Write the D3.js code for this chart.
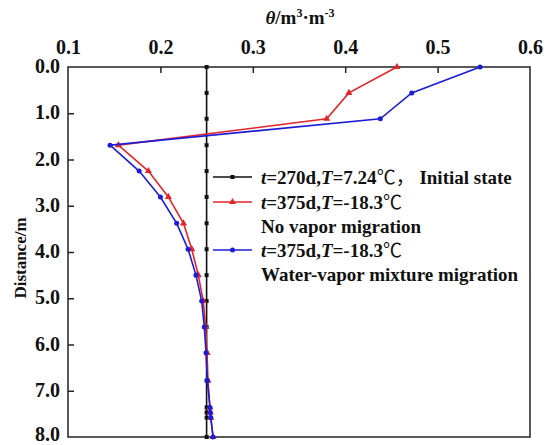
<!DOCTYPE html>
<html>
<head>
<meta charset="utf-8">
<script src="https://cdn.jsdelivr.net/npm/d3@7"></script>
<style>
  body { margin: 0; background: #fff; }
  text { font-family: "Liberation Serif", "Times New Roman", serif; font-weight: bold; }
  .cjk { font-family: "Noto Sans CJK SC", sans-serif; font-weight: normal; }
</style>
</head>
<body>
<script>
// depth of each node (m)
const depth = [0, 0.56, 1.12, 1.69, 2.25, 2.81, 3.38, 3.94, 4.5, 5.06, 5.62, 6.18, 6.78, 7.36, 7.47, 7.58, 8.0];
// water content theta (m3/m3)
const initial = [0.25, 0.25, 0.25, 0.25, 0.25, 0.25, 0.25, 0.25, 0.25, 0.25, 0.25, 0.25, 0.25, 0.25, 0.25, 0.25, 0.25];
const noVapor = [0.456, 0.404, 0.380, 0.1545, 0.187, 0.2086, 0.225, 0.234, 0.241, 0.2464, 0.249, 0.2505, 0.2515, 0.2535, 0.254, 0.2545, 0.257];
const mixture = [0.546, 0.472, 0.438, 0.1455, 0.177, 0.200, 0.2176, 0.230, 0.2385, 0.2447, 0.2475, 0.2494, 0.2508, 0.2537, 0.254, 0.2545, 0.257];
const xTicks = [0.1, 0.2, 0.3, 0.4, 0.5, 0.6];
const yTicks = [0, 1, 2, 3, 4, 5, 6, 7, 8];

const w = 550, h = 445;
const mLeft = 68, mRight = 530, mTop = 67, mBottom = 437;

const svg = d3.select("body").append("svg")
  .attr("width", w)
  .attr("height", h);

const x = d3.scaleLinear().domain([0.1, 0.6]).range([mLeft, mRight]);
const y = d3.scaleLinear().domain([0, 8]).range([mTop, mBottom]);

// frame
svg.append("rect")
  .attr("x", mLeft).attr("y", mTop)
  .attr("width", mRight - mLeft).attr("height", mBottom - mTop)
  .attr("fill", "none").attr("stroke", "#222").attr("stroke-width", 1.5);

// top axis, ticks pointing inward
const xAxis = d3.axisTop(x).tickValues(xTicks).tickFormat(d3.format(".1f")).tickSizeInner(-6).tickSizeOuter(0).tickPadding(13);
const gx = svg.append("g").attr("transform", `translate(0,${mTop})`).call(xAxis);
gx.select(".domain").remove();
gx.selectAll(".tick line").attr("stroke", "#222").attr("stroke-width", 1.5)
  .filter(d => d === 0.1 || d === 0.6).remove();
gx.selectAll(".tick text").attr("font-size", 20).attr("fill", "#111");

// left axis
const yAxis = d3.axisLeft(y).tickValues(yTicks).tickFormat(d3.format(".1f")).tickSizeInner(-6).tickSizeOuter(0).tickPadding(8);
const gy = svg.append("g").attr("transform", `translate(${mLeft},0)`).call(yAxis);
gy.select(".domain").remove();
gy.selectAll(".tick line").attr("stroke", "#222").attr("stroke-width", 1.5)
  .filter(d => d === 0 || d === 8).remove();
gy.selectAll(".tick text").attr("font-size", 20).attr("fill", "#111")
  .attr("dy", d => d === 8 ? "0.15em" : "0.28em");

// axis titles
const xt = svg.append("text")
  .attr("x", 300).attr("y", 24)
  .attr("text-anchor", "middle")
  .attr("font-size", 19).attr("fill", "#111");
xt.append("tspan").attr("font-style", "italic").text("θ");
xt.append("tspan").text("/m");
xt.append("tspan").attr("font-size", 12).attr("dy", -7).text("3");
xt.append("tspan").attr("dy", 7).text("·m");
xt.append("tspan").attr("font-size", 12).attr("dy", -7).text("-3");

svg.append("text")
  .attr("transform", "translate(26,258) rotate(-90)")
  .attr("text-anchor", "middle")
  .attr("font-size", 17).attr("fill", "#111")
  .text("Distance/m");

const series = [
  { vals: initial, color: "#111111", marker: "square" },
  { vals: noVapor, color: "#e0262b", marker: "triangle" },
  { vals: mixture, color: "#1c1cd6", marker: "circle" }
];

const line = d3.line().x(d => x(d[0])).y(d => y(d[1]));

const symbolOf = m => m === "square" ? d3.symbolSquare : m === "triangle" ? d3.symbolTriangle : d3.symbolCircle;
const sizeOf = m => m === "square" ? 16 : m === "triangle" ? 22 : 20;

series.forEach(s => {
  const pts = s.vals.map((v, i) => [v, depth[i]]);
  svg.append("path")
    .datum(pts)
    .attr("d", line)
    .attr("fill", "none")
    .attr("stroke", s.color)
    .attr("stroke-width", 1.6);
  svg.selectAll(null)
    .data(pts)
    .enter()
    .append("path")
    .attr("transform", d => `translate(${x(d[0])},${y(d[1])})`)
    .attr("d", d3.symbol().type(symbolOf(s.marker)).size(sizeOf(s.marker)))
    .attr("fill", s.color);
});

// legend
const legend = [
  { color: "#111111", marker: "square", ly: 177, lines: [["t", "=270d,", "T", "=7.24", "℃，", " Initial state"]] },
  { color: "#e0262b", marker: "triangle", ly: 202, lines: [["t", "=375d,", "T", "=-18.3", "℃"], ["No vapor migration"]] },
  { color: "#1c1cd6", marker: "circle", ly: 250, lines: [["t", "=375d,", "T", "=-18.3", "℃"], ["Water-vapor mixture migration"]] }
];

legend.forEach(l => {
  svg.append("line")
    .attr("x1", 213).attr("x2", 252)
    .attr("y1", l.ly).attr("y2", l.ly)
    .attr("stroke", l.color).attr("stroke-width", 1.6);
  svg.append("path")
    .attr("transform", `translate(232.5,${l.ly})`)
    .attr("d", d3.symbol().type(symbolOf(l.marker)).size(sizeOf(l.marker)))
    .attr("fill", l.color);
  l.lines.forEach((parts, j) => {
    const t = svg.append("text")
      .attr("x", 261).attr("y", l.ly + 7 + j * 24)
      .attr("font-size", 19).attr("fill", "#111");
    if (parts.length === 1) {
      t.text(parts[0]);
    } else {
      t.append("tspan").attr("font-style", "italic").text(parts[0]);
      t.append("tspan").text(parts[1]);
      t.append("tspan").attr("font-style", "italic").text(parts[2]);
      t.append("tspan").text(parts[3]);
      t.append("tspan").attr("class", "cjk").text(parts[4]);
      if (parts[5]) t.append("tspan").text(parts[5]);
    }
  });
});
</script>
</body>
</html>
